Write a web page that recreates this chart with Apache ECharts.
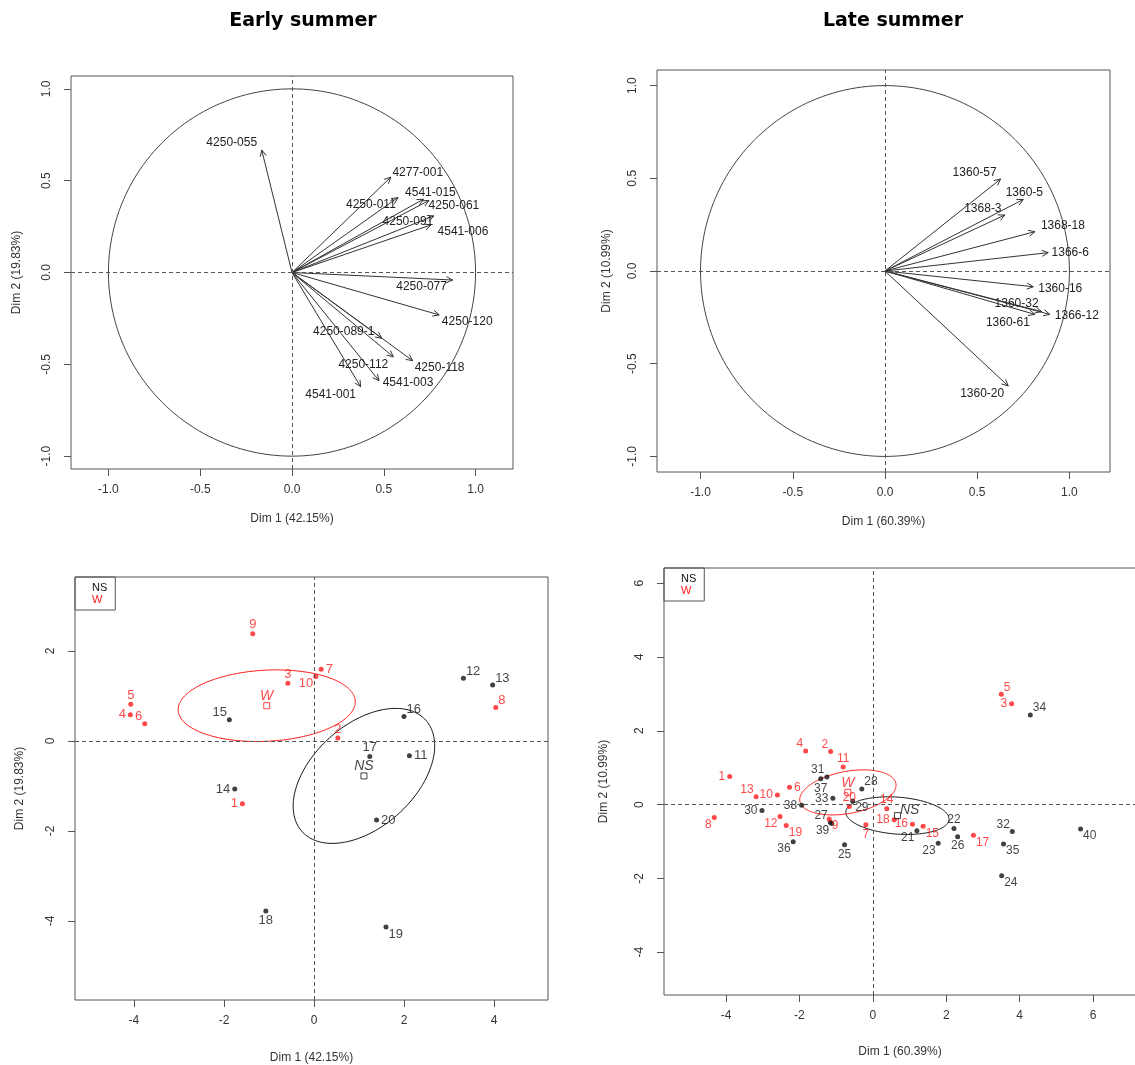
<!DOCTYPE html>
<html>
<head>
<meta charset="utf-8">
<title>PCA - early / late summer</title>
<script src="https://cdn.jsdelivr.net/npm/echarts@6/dist/echarts.min.js"></script>
<style>html,body{margin:0;padding:0;background:#fff;}</style>
</head>
<body>
<div id="main" style="width:1135px;height:1065px;"></div>
<script type="text/javascript">
// ---- variables on the correlation circles ----
var earlyVarNames = ['4250-055','4277-001','4250-011','4541-015','4250-061','4250-091','4541-006',
                     '4250-077','4250-120','4250-089-1','4250-112','4250-118','4541-003','4541-001'];
var earlyVarDim1 = [-0.165, 0.538, 0.577, 0.716, 0.746, 0.773, 0.757, 0.875, 0.802, 0.489, 0.552, 0.657, 0.474, 0.374];
var earlyVarDim2 = [0.667, 0.519, 0.408, 0.399, 0.392, 0.308, 0.259, -0.041, -0.231, -0.358, -0.459, -0.480, -0.589, -0.622];

var lateVarNames = ['1360-57','1360-5','1368-3','1368-18','1366-6','1360-16','1360-32','1366-12','1360-61','1360-20'];
var lateVarDim1 = [0.627, 0.750, 0.650, 0.813, 0.885, 0.804, 0.849, 0.894, 0.813, 0.668];
var lateVarDim2 = [0.496, 0.386, 0.302, 0.212, 0.099, -0.085, -0.219, -0.234, -0.234, -0.620];

// ---- individuals, early summer ----
var earlyNsIds = [11, 12, 13, 14, 15, 16, 17, 18, 19, 20];
var earlyNsDim1 = [2.12, 3.32, 3.97, -1.76, -1.88, 2.00, 1.24, -1.07, 1.60, 1.39];
var earlyNsDim2 = [-0.33, 1.39, 1.24, -1.07, 0.47, 0.54, -0.35, -3.78, -4.14, -1.76];
var earlyWIds = [1, 2, 3, 4, 5, 6, 7, 8, 9, 10];
var earlyWDim1 = [-1.59, 0.53, -0.58, -4.08, -4.07, -3.76, 0.16, 4.04, -1.36, 0.04];
var earlyWDim2 = [-1.40, 0.06, 1.28, 0.58, 0.81, 0.38, 1.59, 0.74, 2.38, 1.43];

// ---- individuals, late summer ----
var lateWIds = [1, 2, 3, 4, 5, 6, 7, 8, 9, 10, 11, 12, 13, 14, 15, 16, 17, 18, 19, 20];
var lateWDim1 = [-3.90, -1.15, 3.78, -1.83, 3.50, -2.27, -0.19, -4.32, -1.19, -2.60,
                 -0.81, -2.53, -3.18, 0.38, 1.37, 1.08, 2.74, 0.58, -2.36, -0.64];
var lateWDim2 = [0.76, 1.44, 2.73, 1.45, 2.99, 0.47, -0.55, -0.35, -0.39, 0.26,
                 1.02, -0.32, 0.21, -0.11, -0.59, -0.53, -0.83, -0.41, -0.57, -0.05];
var lateNsIds = [21, 22, 23, 24, 25, 26, 27, 28, 29, 30, 31, 32, 33, 34, 35, 36, 37, 38, 39, 40];
var lateNsDim1 = [1.20, 2.21, 1.78, 3.51, -0.77, 2.31, -1.16, -0.30, -0.55, -3.02,
                  -1.25, 3.80, -1.09, 4.29, 3.56, -2.17, -1.42, -1.94, -1.12, 5.66];
var lateNsDim2 = [-0.71, -0.65, -1.05, -1.93, -1.09, -0.87, -0.48, 0.42, 0.10, -0.16,
                  0.75, -0.73, 0.17, 2.43, -1.07, -1.01, 0.70, -0.02, -0.51, -0.66];

// group centres and confidence ellipses: [centre dim1, centre dim2, semi-axis a, semi-axis b, angle deg]
var groups = ['NS', 'W'];
var earlyEllipses = [[1.11, -0.78, 1.85, 1.14, 42], [-1.05, 0.78, 1.97, 0.79, 3]];
var lateEllipses = [[0.67, -0.30, 1.41, 0.50, -4.3], [-0.68, 0.33, 1.33, 0.57, 10.5]];

// tick labels
var circleTicks = [-1, -0.5, 0, 0.5, 1];
var earlyIndXTicks = [-4, -2, 0, 2, 4];
var earlyIndYTicks = [-4, -2, 0, 2];
var lateIndXTicks = [-4, -2, 0, 2, 4, 6];
var lateIndYTicks = [-4, -2, 0, 2, 4, 6];

// ---- layout only: where each text sits next to its mark ----
var earlyVarLabelOffsets = [[-30,-7],[27,-5],[-27,7],[7,-7],[25,5],[-26,6],[32,7],
                            [-31,7],[28,7],[-38,-7],[-30,8],[27,7],[29,2],[-30,8]];
var lateVarLabelOffsets = [[-26,-6],[1,-7],[-22,-6],[28,-6],[22,0],[27,2],[-25,-8],[27,1],[-27,8],[-26,8]];
var earlyNsDirs = ['r','tr','tr','l','tl','tr','t','b','br','r'];
var earlyWDirs = ['l','t','t','l','t','tl','r','tr','t','bl'];
var lateWDirs = ['l','tl','l','tl','tr','r','b','bl','br','l','t','bl','tl','t','br','l','br','l','br','t'];
var lateNsDirs = ['bl','t','bl','br','b','b','tl','tr','br','l','tl','tl','l','tr','br','bl','b','l','bl','br'];

var RED = '#ff1a1a', BLACK = '#111', FRAME = '#555', FONT = 'Liberation Sans, Arial, sans-serif';

var myChart = echarts.init(document.getElementById('main'));

function pointLabel(dir, color, size) {
    var m = {
        r: ['right', [0, 0]], l: ['left', [0, 0]], t: ['top', [0, 2]], b: ['bottom', [0, -1]],
        tr: ['right', [-2, -7]], tl: ['left', [2, -7]], br: ['right', [-2, 7]], bl: ['left', [2, 7]]
    }[dir];
    return {show: true, formatter: '{b}', position: m[0], offset: m[1], distance: 2,
            color: color, fontSize: size, fontFamily: FONT};
}

function indData(ids, d1, d2, dirs, color, size) {
    return ids.map(function (id, i) {
        return {name: String(id), value: [d1[i], d2[i]], label: pointLabel(dirs[i], color, size)};
    });
}

var zeroLines = {
    silent: true, symbol: ['none', 'none'], label: {show: false},
    lineStyle: {type: [4, 3], color: '#555', width: 1},
    emphasis: {disabled: true},
    data: [{xAxis: 0}, {yAxis: 0}]
};

function circleSeries(idx) {
    return {
        type: 'custom', xAxisIndex: idx, yAxisIndex: idx, silent: true,
        data: [[0, 0]],
        renderItem: function (params, api) {
            var pts = [];
            for (var k = 0; k <= 200; k++) {
                var t = k / 200 * Math.PI * 2;
                pts.push(api.coord([Math.cos(t), Math.sin(t)]));
            }
            return {type: 'polyline', shape: {points: pts}, style: {stroke: '#444', lineWidth: 1, fill: null}};
        }
    };
}

function arrowSeries(idx, names, d1, d2, offsets) {
    return {
        type: 'custom', xAxisIndex: idx, yAxisIndex: idx, silent: true,
        data: names.map(function (n, i) { return {name: n, value: [d1[i], d2[i]]}; }),
        renderItem: function (params, api) {
            var o = api.coord([0, 0]);
            var p = api.coord([api.value(0), api.value(1)]);
            var ang = Math.atan2(p[1] - o[1], p[0] - o[0]);
            var h = 7, w = Math.PI / 7;
            var a1 = [p[0] - h * Math.cos(ang - w), p[1] - h * Math.sin(ang - w)];
            var a2 = [p[0] - h * Math.cos(ang + w), p[1] - h * Math.sin(ang + w)];
            var off = offsets[params.dataIndex];
            return {type: 'group', children: [
                {type: 'line', shape: {x1: o[0], y1: o[1], x2: p[0], y2: p[1]}, style: {stroke: '#333', lineWidth: 1}},
                {type: 'polyline', shape: {points: [a1, p, a2]}, style: {stroke: '#333', lineWidth: 1, fill: null}},
                {type: 'text', x: p[0] + off[0], y: p[1] + off[1],
                 style: {text: names[params.dataIndex], align: 'center', verticalAlign: 'middle',
                         fill: '#222', font: '12px ' + FONT}}
            ]};
        }
    };
}

function ellipseSeries(idx, ell) {
    var colors = [BLACK, RED];
    return {
        type: 'custom', xAxisIndex: idx, yAxisIndex: idx, silent: true,
        data: ell,
        renderItem: function (params, api) {
            var e = ell[params.dataIndex];
            var th = e[4] * Math.PI / 180, pts = [];
            for (var k = 0; k <= 200; k++) {
                var t = k / 200 * Math.PI * 2;
                var ex = e[2] * Math.cos(t), ey = e[3] * Math.sin(t);
                pts.push(api.coord([e[0] + ex * Math.cos(th) - ey * Math.sin(th),
                                    e[1] + ex * Math.sin(th) + ey * Math.cos(th)]));
            }
            return {type: 'polyline', shape: {points: pts},
                    style: {stroke: colors[params.dataIndex], lineWidth: 1, fill: null}};
        }
    };
}

function centreSeries(idx, ell, nsPos) {
    return {
        type: 'scatter', xAxisIndex: idx, yAxisIndex: idx, silent: true, symbol: 'rect', symbolSize: 6, z: 3,
        data: groups.map(function (g, i) {
            var c = i === 0 ? BLACK : RED;
            return {name: g, value: [ell[i][0], ell[i][1]],
                    itemStyle: {color: 'rgba(0,0,0,0)', borderColor: c, borderWidth: 1},
                    label: {show: true, formatter: '{b}', position: i === 0 ? nsPos[0] : 'top',
                            offset: i === 0 ? nsPos[1] : [0, 2], distance: 1,
                            color: c, fontSize: 14, fontStyle: 'italic', fontFamily: FONT}};
        })
    };
}

function xAx(idx, min, max, ticks, dec, name, gap, shift) {
    return {
        gridIndex: idx, type: 'value', min: min, max: max,
        axisLine: {show: false, onZero: false}, splitLine: {show: false},
        axisTick: {show: true, inside: false, length: 7, customValues: ticks, lineStyle: {color: FRAME}},
        axisLabel: {customValues: ticks, margin: 15, color: '#333', fontSize: 12, fontFamily: FONT,
                    formatter: function (v) { return v.toFixed(dec); }},
        name: name, nameLocation: 'middle', nameGap: gap,
        nameTextStyle: {color: '#333', fontSize: 12, fontFamily: FONT, padding: [0, shift || 0, 0, 0]}
    };
}

function yAx(idx, min, max, ticks, dec, name, gap) {
    var a = xAx(idx, min, max, ticks, dec, name, gap);
    a.axisLabel.rotate = 90;
    a.axisLabel.margin = 18;
    return a;
}

function legendBox(left, top) {
    return {
        left: left, top: top, orient: 'vertical', selectedMode: false, icon: 'none',
        itemWidth: 6, itemHeight: 8, itemGap: 1, padding: [5, 8, 5, 6],
        borderColor: FRAME, borderWidth: 1,
        textStyle: {fontSize: 11, fontFamily: FONT},
        data: [{name: 'NS', textStyle: {color: BLACK}}, {name: 'W', textStyle: {color: RED}}]
    };
}

function gridAt(left, top, width, height) {
    return {left: left, top: top, width: width, height: height, outerBoundsMode: 'none', containLabel: false,
            show: true, borderColor: FRAME, borderWidth: 1, backgroundColor: 'rgba(0,0,0,0)'};
}

var option = {
    animation: false,
    backgroundColor: '#fff',
    graphic: [
        {type: 'text', x: 303, y: 21, style: {text: 'Early summer', align: 'center', verticalAlign: 'middle',
            font: 'bold 19px DejaVu Sans', fill: '#000'}},
        {type: 'text', x: 893, y: 21, style: {text: 'Late summer', align: 'center', verticalAlign: 'middle',
            font: 'bold 19px DejaVu Sans', fill: '#000'}}
    ],
    legend: [legendBox(75, 577), legendBox(664, 568)],
    grid: [
        gridAt(71, 76, 442, 393),
        gridAt(657, 70, 453, 402),
        gridAt(75, 577, 473, 423),
        gridAt(664, 568, 490, 427)
    ],
    xAxis: [
        xAx(0, -1.204, 1.204, circleTicks, 1, 'Dim 1 (42.15%)', 44),
        xAx(1, -1.236, 1.220, circleTicks, 1, 'Dim 1 (60.39%)', 44),
        xAx(2, -5.31, 5.20, earlyIndXTicks, 0, 'Dim 1 (42.15%)', 52),
        xAx(3, -5.69, 7.66, lateIndXTicks, 0, 'Dim 1 (60.39%)', 51, 18)
    ],
    yAxis: [
        yAx(0, -1.07, 1.07, circleTicks, 1, 'Dim 2 (19.83%)', 48),
        yAx(1, -1.084, 1.084, circleTicks, 1, 'Dim 2 (10.99%)', 44),
        yAx(2, -5.76, 3.64, earlyIndYTicks, 0, 'Dim 2 (19.83%)', 49),
        yAx(3, -5.16, 6.41, lateIndYTicks, 0, 'Dim 2 (10.99%)', 54)
    ],
    series: [
        circleSeries(0),
        arrowSeries(0, earlyVarNames, earlyVarDim1, earlyVarDim2, earlyVarLabelOffsets),
        {type: 'scatter', xAxisIndex: 0, yAxisIndex: 0, symbolSize: 0, silent: true, data: [[0, 0]], markLine: zeroLines},

        circleSeries(1),
        arrowSeries(1, lateVarNames, lateVarDim1, lateVarDim2, lateVarLabelOffsets),
        {type: 'scatter', xAxisIndex: 1, yAxisIndex: 1, symbolSize: 0, silent: true, data: [[0, 0]], markLine: zeroLines},

        ellipseSeries(2, earlyEllipses),
        {name: 'NS', type: 'scatter', xAxisIndex: 2, yAxisIndex: 2, symbolSize: 5, silent: true,
         itemStyle: {color: BLACK}, markLine: zeroLines,
         data: indData(earlyNsIds, earlyNsDim1, earlyNsDim2, earlyNsDirs, BLACK, 13)},
        {name: 'W', type: 'scatter', xAxisIndex: 2, yAxisIndex: 2, symbolSize: 5, silent: true,
         itemStyle: {color: RED},
         data: indData(earlyWIds, earlyWDim1, earlyWDim2, earlyWDirs, RED, 13)},
        centreSeries(2, earlyEllipses, ['top', [0, 2]]),

        ellipseSeries(3, lateEllipses),
        {name: 'NS', type: 'scatter', xAxisIndex: 3, yAxisIndex: 3, symbolSize: 5, silent: true,
         itemStyle: {color: BLACK}, markLine: zeroLines,
         data: indData(lateNsIds, lateNsDim1, lateNsDim2, lateNsDirs, BLACK, 12)},
        {name: 'W', type: 'scatter', xAxisIndex: 3, yAxisIndex: 3, symbolSize: 5, silent: true,
         itemStyle: {color: RED},
         data: indData(lateWIds, lateWDim1, lateWDim2, lateWDirs, RED, 12)},
        centreSeries(3, lateEllipses, ['right', [-2, -6]])
    ]
};
myChart.setOption(option);
</script>
</body>
</html>
